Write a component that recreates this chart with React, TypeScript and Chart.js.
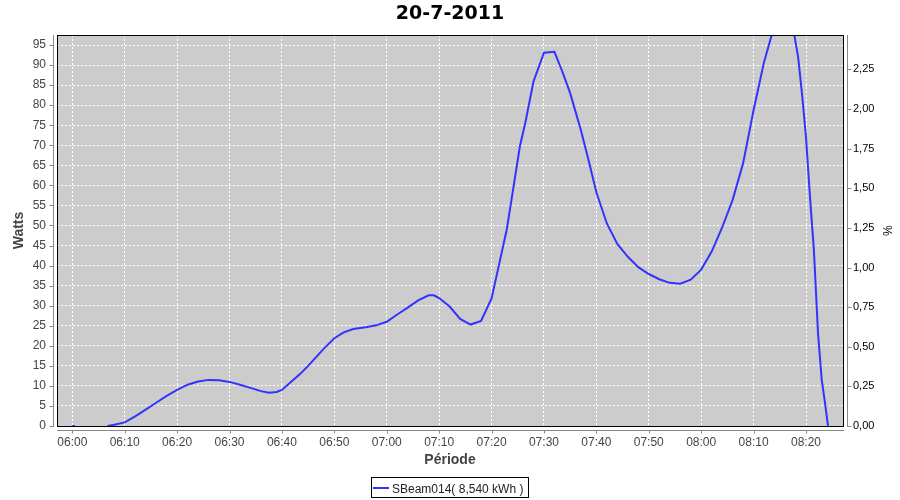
import React, { useEffect, useRef } from "react";
import { Chart, registerables } from "chart.js";

Chart.register(...registerables);

const chartTitle = "20-7-2011";
const seriesLabel = "SBeam014( 8,540 kWh )";
const xAxisTitle = "Période";
const leftAxisTitle = "Watts";
const rightAxisTitle = "%";

// minutes after 06:00
const minutesFrom6h: number[] = [
  0, 0.5, 3, 6.7, 8, 10, 12, 14, 16, 18, 20, 22, 24, 26, 28, 30, 32, 34, 36, 37.5,
  39, 40, 41.5, 43.5, 45, 48, 50, 51.7, 53.6, 56, 58, 60, 62, 64, 66, 68, 69, 70,
  72, 74, 76, 78, 80, 81.3, 82.9, 84.2, 85.4, 86.5, 88, 90, 92, 93.5, 95, 97, 98.5,
  100, 102, 104, 106, 108, 110, 112, 114, 116, 118, 120, 122, 124, 126, 128, 130,
  132, 134, 136, 137.5, 138.5, 139.3, 140, 140.8, 141.5, 142.3, 143, 143.6, 144.2,
];

const watts: (number | null)[] = [
  0, 0, null, 0, 0.3, 0.9, 2.4, 4.1, 5.8, 7.5, 9.0, 10.3, 11.1, 11.5, 11.4, 11.0, 10.3, 9.5, 8.7, 8.3,
  8.5, 9.0, 10.7, 13.0, 15.0, 19.3, 21.9, 23.3, 24.2, 24.6, 25.1, 26.0, 27.8, 29.5, 31.3, 32.6, 32.6, 31.9,
  29.8, 26.7, 25.3, 26.2, 31.8, 39.5, 49.0, 59.7, 69.7, 76.0, 85.9, 93.1, 93.3, 88.4, 83.0, 74.0, 66.3,
  58.3, 50.5, 45.4, 42.2, 39.6, 37.9, 36.6, 35.7, 35.5, 36.5, 39.0, 43.5, 49.5, 56.4, 65.5, 78.8,
  90.8, 100, 103, 99.5, 92, 82, 72, 56.4, 44, 23, 11.5, 6, 0,
];

const timeTicks: number[] = [0, 10, 20, 30, 40, 50, 60, 70, 80, 90, 100, 110, 120, 130, 140];
const wattTicks: number[] = [0, 5, 10, 15, 20, 25, 30, 35, 40, 45, 50, 55, 60, 65, 70, 75, 80, 85, 90, 95];
const percentTicks: number[] = [0, 0.25, 0.5, 0.75, 1, 1.25, 1.5, 1.75, 2, 2.25];

const X_MIN = -2.92;
const X_MAX = 147.06;
const W_MAX = 97.5;
const P_MAX = 2.467;

const AXIS_GRAY = "#888888";
const TICK_FONT = "Liberation Sans";

function fmtTime(m: number): string {
  const total = 6 * 60 + Math.round(m);
  const h = Math.floor(total / 60);
  const mm = total % 60;
  return String(h).padStart(2, "0") + ":" + String(mm).padStart(2, "0");
}

function fmtPercent(v: number): string {
  return v.toFixed(2).replace(".", ",");
}

const framePlugin = {
  id: "jfreeFrame",
  beforeDraw(chart: any) {
    const { ctx, chartArea: a, width, height } = chart;
    ctx.save();
    ctx.fillStyle = "#ffffff";
    ctx.fillRect(0, 0, width, height);
    ctx.fillStyle = "#cccccc";
    ctx.fillRect(a.left, a.top, a.right - a.left, a.bottom - a.top);
    ctx.restore();
  },
  afterDatasetsDraw(chart: any) {
    const { ctx, chartArea: a, scales } = chart;
    ctx.save();
    ctx.setLineDash([]);
    ctx.lineWidth = 1;
    ctx.strokeStyle = "#000000";
    ctx.strokeRect(a.left + 0.5, a.top + 0.5, a.right - a.left, a.bottom - a.top);

    ctx.strokeStyle = AXIS_GRAY;
    ctx.beginPath();
    // left axis
    const lx = a.left - 4 + 0.5;
    ctx.moveTo(lx, a.top);
    ctx.lineTo(lx, a.bottom + 1);
    for (const v of wattTicks) {
      const y = Math.round(scales.y.getPixelForValue(v)) + 0.5;
      ctx.moveTo(lx - 4, y);
      ctx.lineTo(lx, y);
    }
    // right axis
    const rx = a.right + 4 + 0.5;
    ctx.moveTo(rx, a.top);
    ctx.lineTo(rx, a.bottom + 1);
    for (const v of percentTicks) {
      const y = Math.round(scales.y1.getPixelForValue(v)) + 0.5;
      ctx.moveTo(rx, y);
      ctx.lineTo(rx + 4, y);
    }
    // bottom axis
    const by = a.bottom + 4 + 0.5;
    ctx.moveTo(a.left, by);
    ctx.lineTo(a.right + 1, by);
    for (const v of timeTicks) {
      const x = Math.round(scales.x.getPixelForValue(v)) + 0.5;
      ctx.moveTo(x, by);
      ctx.lineTo(x, by + 3);
    }
    ctx.stroke();
    ctx.restore();
  },
  afterDraw(chart: any) {
    const { ctx, chartArea: a } = chart;
    const ds = chart.data.datasets[0];
    ctx.save();
    ctx.font = `12px "${TICK_FONT}"`;
    const tw = ctx.measureText(ds.label).width;
    const bw = Math.round(2 + 16 + 4 + tw + 5);
    const cx = (a.left + a.right) / 2;
    const left = Math.round(cx - bw / 2);
    const top = 477;
    const bh = 21;
    ctx.fillStyle = "#ffffff";
    ctx.fillRect(left, top, bw, bh);
    ctx.strokeStyle = "#000000";
    ctx.lineWidth = 1;
    ctx.strokeRect(left + 0.5, top + 0.5, bw - 1, bh - 1);
    ctx.strokeStyle = ds.borderColor;
    ctx.lineWidth = 2;
    ctx.beginPath();
    ctx.moveTo(left + 2, top + 11);
    ctx.lineTo(left + 18, top + 11);
    ctx.stroke();
    ctx.fillStyle = "#222222";
    ctx.textBaseline = "alphabetic";
    ctx.textAlign = "left";
    ctx.fillText(ds.label, left + 21, top + 15.5);
    ctx.restore();
  },
};

export default function App() {
  const canvasRef = useRef<HTMLCanvasElement | null>(null);

  useEffect(() => {
    const canvas = canvasRef.current;
    if (!canvas) return;
    const points = minutesFrom6h.map((m, i) => ({ x: m, y: watts[i] }));

    const chart = new Chart(canvas, {
      type: "line",
      data: {
        datasets: [
          {
            label: seriesLabel,
            data: points as any,
            borderColor: "#3333ff",
            backgroundColor: "#3333ff",
            borderWidth: 2,
            pointRadius: 0,
            pointHoverRadius: 0,
            tension: 0,
            spanGaps: false,
            fill: false,
            clip: 0 as any,
            xAxisID: "x",
            yAxisID: "y",
          },
        ],
      },
      options: {
        responsive: false,
        maintainAspectRatio: false,
        animation: false,
        events: [],
        layout: { padding: 0 },
        plugins: {
          legend: { display: false },
          tooltip: { enabled: false },
          title: {
            display: true,
            text: chartTitle,
            color: "#000000",
            font: { family: "DejaVu Sans", size: 19, weight: "bold", lineHeight: 1.2 },
            padding: { top: 2.6, bottom: 9.6 },
          },
        },
        scales: {
          x: {
            type: "linear",
            position: "bottom",
            min: X_MIN,
            max: X_MAX,
            afterBuildTicks: (s: any) => {
              s.ticks = timeTicks.map((v) => ({ value: v }));
            },
            afterFit: (s: any) => {
              s.height = 74;
            },
            ticks: {
              callback: (v: any) => fmtTime(Number(v)),
              color: "#444444",
              font: { family: TICK_FONT, size: 12 },
              padding: 9,
              maxRotation: 0,
              autoSkip: false,
            },
            grid: { color: "#ffffff", lineWidth: 1, drawTicks: false },
            border: { display: false, dash: [2, 2] },
            title: {
              display: true,
              text: xAxisTitle,
              color: "#444444",
              font: { family: TICK_FONT, size: 14, weight: "bold", lineHeight: 1.2 },
              padding: { top: 0, bottom: 31 },
            },
          },
          y: {
            type: "linear",
            position: "left",
            min: 0,
            max: W_MAX,
            afterBuildTicks: (s: any) => {
              s.ticks = wattTicks.map((v) => ({ value: v }));
            },
            afterFit: (s: any) => {
              s.width = 57;
            },
            ticks: {
              callback: (v: any) => String(v),
              color: "#444444",
              font: { family: TICK_FONT, size: 12 },
              padding: 11,
              autoSkip: false,
            },
            grid: { color: "#ffffff", lineWidth: 1, drawTicks: false },
            border: { display: false, dash: [2, 2] },
            title: {
              display: true,
              text: leftAxisTitle,
              color: "#444444",
              font: { family: TICK_FONT, size: 14, weight: "bold", lineHeight: 1.2 },
              padding: { top: 11, bottom: 0 },
            },
          },
          y1: {
            type: "linear",
            position: "right",
            min: 0,
            max: P_MAX,
            afterBuildTicks: (s: any) => {
              s.ticks = percentTicks.map((v) => ({ value: v }));
            },
            afterFit: (s: any) => {
              s.width = 57;
            },
            ticks: {
              callback: (v: any) => fmtPercent(Number(v)),
              color: "#000000",
              font: { family: TICK_FONT, size: 11 },
              padding: 10,
              autoSkip: false,
            },
            grid: { drawOnChartArea: false, drawTicks: false },
            border: { display: false },
            title: {
              display: true,
              text: rightAxisTitle,
              color: "#000000",
              font: { family: TICK_FONT, size: 12, lineHeight: 1.2 },
              padding: { top: 6, bottom: 0 },
            },
          },
        },
      } as any,
      plugins: [framePlugin as any],
    });

    return () => {
      chart.destroy();
    };
  }, []);

  return (
    <div style={{ position: "fixed", left: 0, top: 0, width: 900, height: 500, background: "#ffffff" }}>
      <canvas ref={canvasRef} width={900} height={500} style={{ width: 900, height: 500, display: "block" }} />
    </div>
  );
}
